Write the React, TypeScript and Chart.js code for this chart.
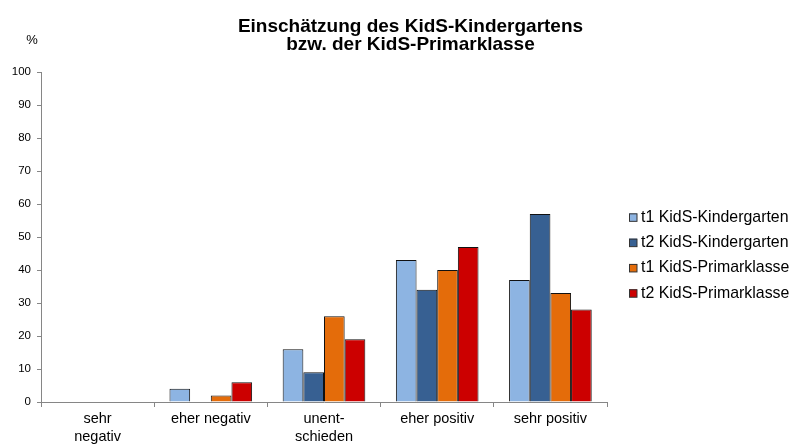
import React, { useEffect, useRef } from 'react';
import { Chart, registerables } from 'chart.js';

Chart.register(...registerables);

const categories: (string | string[])[] = [
  ['sehr', 'negativ'],
  'eher negativ',
  ['unent-', 'schieden'],
  'eher positiv',
  'sehr positiv',
];
const seriesNames = [
  't1 KidS-Kindergarten',
  't2 KidS-Kindergarten',
  't1 KidS-Primarklasse',
  't2 KidS-Primarklasse',
];
const t1Kindergarten = [0, 4, 16, 43, 37];
const t2Kindergarten = [0, 0, 9, 34, 57];
const t1Primarklasse = [0, 2, 26, 40, 33];
const t2Primarklasse = [0, 6, 19, 47, 28];
const seriesColors = ['#8DB4E2', '#376092', '#E46C0A', '#CC0000'];
const titleLines = ['Einschätzung des KidS-Kindergartens', 'bzw. der KidS-Primarklasse'];
const yUnit = '%';
const yMin = 0;
const yMax = 100;
const yStep = 10;

const FONT = "'Liberation Sans', Arial, Helvetica, sans-serif";

const extrasPlugin = {
  id: 'extras',
  afterLayout(chart: any) {
    const t = chart.titleBlock;
    if (t) {
      t.left = 28;
      t.right = 793;
      t.width = t.right - t.left;
    }
  },
  afterDraw(chart: any) {
    const { ctx, chartArea } = chart;
    ctx.save();
    // unit label
    ctx.fillStyle = '#000';
    ctx.font = `13px ${FONT}`;
    ctx.textAlign = 'center';
    ctx.textBaseline = 'middle';
    ctx.fillText(yUnit, 32, chartArea.top - 32);
    // legend
    ctx.font = `15.9px ${FONT}`;
    ctx.textAlign = 'left';
    chart.data.datasets.forEach((ds: any, i: number) => {
      const cy = chartArea.top + 145.3 + i * 25.3;
      const bx = chartArea.right + 22;
      ctx.fillStyle = ds.backgroundColor;
      ctx.fillRect(bx, cy - 4, 8, 8);
      ctx.strokeStyle = '#333';
      ctx.lineWidth = 1;
      ctx.strokeRect(bx + 0.5, cy - 3.5, 7.5, 7.5);
      ctx.fillStyle = '#000';
      ctx.fillText(ds.label, bx + 12, cy);
    });
    ctx.restore();
  },
};

export default function App() {
  const ref = useRef<HTMLCanvasElement | null>(null);
  useEffect(() => {
    if (!ref.current) return;
    const series = [t1Kindergarten, t2Kindergarten, t1Primarklasse, t2Primarklasse];
    const chart = new Chart(ref.current, {
      type: 'bar',
      data: {
        labels: categories,
        datasets: series.map((d, i) => ({
          label: seriesNames[i],
          data: d,
          backgroundColor: seriesColors[i],
          borderColor: '#111',
          borderWidth: 1,
          categoryPercentage: 0.73,
          barPercentage: 1,
        })),
      },
      options: {
        responsive: false,
        animation: false,
        devicePixelRatio: 1,
        layout: { padding: { left: 0, right: 186, top: 0, bottom: 0 } },
        plugins: {
          legend: { display: false },
          tooltip: { enabled: false },
          title: {
            display: true,
            text: titleLines,
            color: '#000',
            font: { family: FONT, size: 19, weight: 'bold', lineHeight: 0.98 },
            padding: { top: 17, bottom: 17.8 },
          },
        },
        scales: {
          x: {
            grid: { offset: true, drawOnChartArea: false, tickLength: 5, color: '#868686' },
            border: { color: '#868686' },
            ticks: {
              color: '#000',
              font: { family: FONT, size: 14.5, lineHeight: 1.2 },
              padding: 3.5,
              maxRotation: 0,
              autoSkip: false,
            },
            afterFit: (s: any) => {
              s.height = 43;
            },
          },
          y: {
            min: yMin,
            max: yMax,
            grid: { drawOnChartArea: false, tickLength: 4, color: '#868686' },
            border: { color: '#868686' },
            ticks: {
              stepSize: yStep,
              color: '#000',
              font: { family: FONT, size: 11.5 },
              padding: 6,
            },
            afterFit: (s: any) => {
              s.width = 41;
            },
          },
        },
      },
      plugins: [extrasPlugin],
    } as any);
    return () => chart.destroy();
  }, []);
  return (
    <div style={{ position: 'absolute', left: 0, top: 0, width: 793, height: 445, background: '#fff' }}>
      <canvas ref={ref} width={793} height={445} />
    </div>
  );
}
